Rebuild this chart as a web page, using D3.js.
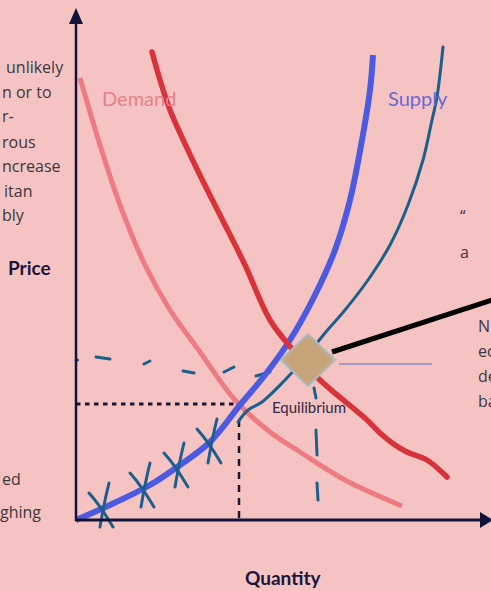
<!DOCTYPE html>
<html>
<head>
<meta charset="utf-8">
<script src="https://cdn.jsdelivr.net/npm/d3@7"></script>
<style>
  html, body { margin: 0; padding: 0; background: #f5c4c2; }
  svg { display: block; }
</style>
</head>
<body>
<div id="viz"></div>
<script>
const W = 491, H = 591;

// curves, in chart units (0..100 on both axes)
const demandLight = [[1, 88.4], [6, 75], [11, 63], [17.25, 51], [23.5, 42], [31, 33.6], [39.75, 24],
  [48.5, 17.6], [56, 13.6], [67.25, 8], [81.5, 2.8]];
const demandRed = [[19, 93.6], [21, 88], [23.5, 82], [29.75, 71], [36, 61], [42.25, 51], [48.5, 40],
  [54.25, 34], [61, 28], [67.75, 23.4], [72.75, 20], [76, 17.4], [79.75, 15], [82.75, 13.6],
  [87.75, 12], [92.75, 8.6]];
const supplyBlue = [[0, 0], [8.5, 3], [18.5, 7], [26, 11], [33.5, 15.6], [41, 23], [47.25, 29],
  [53.5, 36], [59.75, 45], [64.75, 54], [68.5, 64], [71.5, 76], [73.5, 86], [74.25, 93]];
const supplyTeal = [[40.5, 19.6], [43, 22], [46.5, 23.6], [52.25, 28], [57.25, 32.4], [62.25, 37.4],
  [67.25, 42], [73, 48], [78.5, 55], [83, 63], [86.75, 72], [89, 80], [90.25, 84.6], [91.75, 94.6]];

// hand-drawn marks
const crosses = [[6.5, 2.6], [16.75, 6.6], [25.25, 10.6], [33.5, 15.4]];
const tealDashes = [[[5, 32.6], [8.5, 32.2]], [[17, 31.2], [18.5, 31.8]], [[26.75, 29.8], [29.5, 29.4]],
  [[37, 29.6], [39.5, 30.6]], [[45, 28.8], [48.5, 29.6]], [[0, 32], [0.4, 32]],
  [[59.5, 26.4], [60, 24.4]], [[60, 18], [60.25, 13]], [[60.25, 7.4], [60.5, 4]]];
const equilibrium = [46.5, 23];      // where blue supply meets light demand
const diamond = [58, 32];
const connector = [[64, 33.6], [104, 44]];
const pointer = [[65.75, 31.2], [89, 31.2]];

// labels
const sideLeft = [["unlikely", 6, 73], ["n or to", 2, 98], ["r-", 2, 122], ["rous", 2, 148],
  ["ncrease", 2, 172], ["itan", 4, 197], ["bly", 2, 221], ["ed", 2, 485], ["ghing", 0, 518]];
const sideRight = [["\u2018\u2018", 460, 222], ["a", 460, 258], ["N", 478, 332], ["ec", 478, 357],
  ["de", 478, 382], ["ba", 478, 407]];

const x = d3.scaleLinear().domain([0, 100]).range([76, 476]);
const y = d3.scaleLinear().domain([0, 100]).range([520, 20]);

const svg = d3.select("#viz").append("svg")
  .attr("width", W).attr("height", H);

svg.append("rect").attr("width", W).attr("height", H).attr("fill", "#f5c4c2");

const line = d3.line().x(d => x(d[0])).y(d => y(d[1])).curve(d3.curveCatmullRom);
const straight = d3.line().x(d => x(d[0])).y(d => y(d[1]));

// side text (cut off in the screenshot)
svg.selectAll(".side")
  .data(sideLeft.concat(sideRight))
  .join("text")
    .attr("x", d => d[1]).attr("y", d => d[2])
    .attr("font-family", "'Open Sans', sans-serif")
    .attr("font-size", 16)
    .attr("fill", "#3e3640")
    .text(d => d[0]);

// dashed guide lines to equilibrium
svg.append("path")
  .attr("d", straight([[0, equilibrium[1] + 0.2], [41, equilibrium[1] + 0.2]]))
  .attr("stroke", "#1a1638").attr("stroke-width", 3)
  .attr("stroke-dasharray", "4.5 4.5").attr("fill", "none");
svg.append("path")
  .attr("d", straight([[40.75, 20], [40.75, 0]]))
  .attr("stroke", "#1a1638").attr("stroke-width", 2.5)
  .attr("stroke-dasharray", "7 6").attr("fill", "none");

// teal hand-drawn dashes
svg.selectAll(".tdash")
  .data(tealDashes)
  .join("path")
    .attr("d", d => straight(d))
    .attr("stroke", "#1d5f8c").attr("stroke-width", 3)
    .attr("stroke-linecap", "round").attr("fill", "none");

// curves
svg.append("path").attr("d", line(demandLight))
  .attr("stroke", "#ee7b82").attr("stroke-width", 5).attr("fill", "none");
svg.append("path").attr("d", line(supplyBlue))
  .attr("stroke", "#4b5ae0").attr("stroke-width", 6).attr("fill", "none");
svg.append("path").attr("d", line(demandRed))
  .attr("stroke", "#d8323a").attr("stroke-width", 5.5)
  .attr("stroke-linecap", "round").attr("fill", "none");
svg.append("path").attr("d", line(supplyTeal))
  .attr("stroke", "#1d5f8c").attr("stroke-width", 3)
  .attr("stroke-linecap", "round").attr("fill", "none");

// crosses on the blue supply
const cg = svg.selectAll(".cross").data(crosses).join("g")
  .attr("transform", d => `translate(${x(d[0])},${y(d[1])})`);
cg.append("path").attr("d", "M-13,-14 Q-2,-2 11,20")
  .attr("stroke", "#1d5f8c").attr("stroke-width", 3).attr("fill", "none").attr("stroke-linecap", "round");
cg.append("path").attr("d", "M7,-24 Q2,-4 -2,20")
  .attr("stroke", "#1d5f8c").attr("stroke-width", 3).attr("fill", "none").attr("stroke-linecap", "round");

// black connector and thin pointer
svg.append("path").attr("d", straight(connector))
  .attr("stroke", "#000").attr("stroke-width", 5).attr("fill", "none");
svg.append("path").attr("d", straight(pointer))
  .attr("stroke", "#8c8cc8").attr("stroke-width", 1.5).attr("fill", "none");

// equilibrium diamond
const dx = x(diamond[0]), dy = y(diamond[1]);
svg.append("path")
  .attr("d", `M${dx - 27},${dy} L${dx},${dy - 26} L${dx + 27},${dy} L${dx},${dy + 26} Z`)
  .attr("fill", "#c8a47a").attr("stroke", "#a9bcc2").attr("stroke-width", 2);

// axes
const axisColor = "#13123a";
svg.append("line").attr("x1", x(0)).attr("x2", x(0)).attr("y1", 22).attr("y2", y(0) + 1)
  .attr("stroke", axisColor).attr("stroke-width", 2.5);
svg.append("path").attr("d", `M${x(0)},8 L${x(0) - 7},24 L${x(0) + 7},24 Z`).attr("fill", axisColor);
svg.append("line").attr("x1", x(0) - 1).attr("x2", 482).attr("y1", y(0)).attr("y2", y(0))
  .attr("stroke", axisColor).attr("stroke-width", 3);
svg.append("path").attr("d", `M493,${y(0)} L480,${y(0) - 8} L480,${y(0) + 8} Z`).attr("fill", axisColor);

// chart labels
svg.append("text").attr("x", 102).attr("y", 106)
  .attr("font-family", "Lato, sans-serif").attr("font-size", 20)
  .attr("fill", "#e8808a").text("Demand");
svg.append("text").attr("x", 388).attr("y", 106)
  .attr("font-family", "Lato, sans-serif").attr("font-size", 20)
  .attr("fill", "#6b67d6").text("Supply");
svg.append("text").attr("x", 272).attr("y", 413)
  .attr("font-family", "Lato, sans-serif").attr("font-size", 15)
  .attr("fill", "#33264a").text("Equilibrium");
svg.append("text").attr("x", 8).attr("y", 275)
  .attr("font-family", "Lato, sans-serif").attr("font-size", 19).attr("font-weight", "bold")
  .attr("fill", "#1a1540").text("Price");
svg.append("text").attr("x", 245).attr("y", 585)
  .attr("font-family", "Lato, sans-serif").attr("font-size", 19).attr("font-weight", "bold")
  .attr("fill", "#1a1540").text("Quantity");
</script>
</body>
</html>
